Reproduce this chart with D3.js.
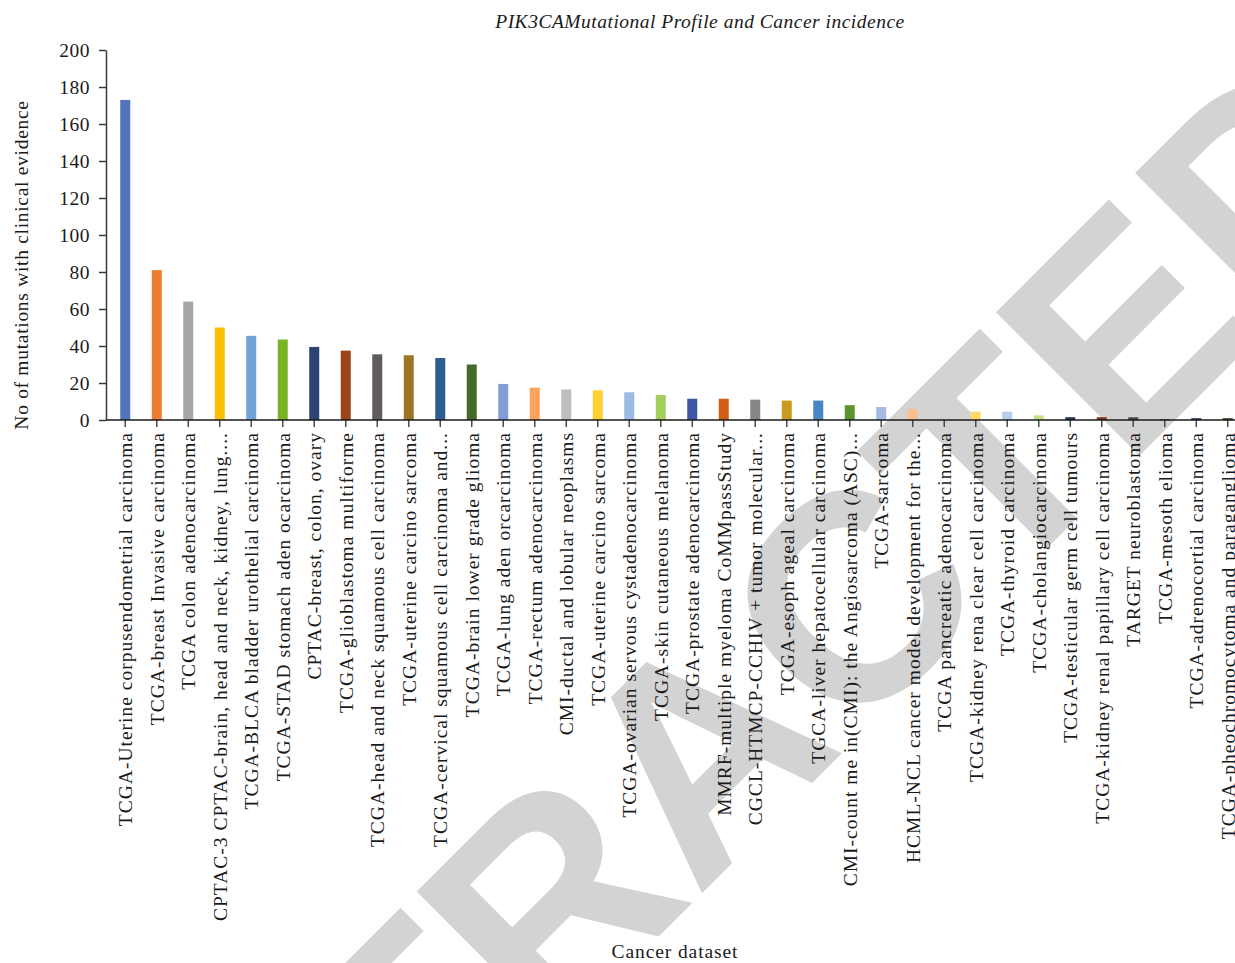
<!DOCTYPE html>
<html>
<head>
<meta charset="utf-8">
<script src="https://cdn.jsdelivr.net/npm/d3@7"></script>
<style>
  html, body { margin: 0; padding: 0; background: #fff; }
  svg { display: block; }
  text { font-family: "Liberation Serif", "Times New Roman", serif; fill: #1a1a1a; }
</style>
</head>
<body>
<svg id="chart" width="1235" height="963"></svg>
<script>
const categories = [
  "TCGA-Uterine corpusendometrial carcinoma",
  "TCGA-breast Invasive carcinoma",
  "TCGA colon adenocarcinoma",
  "CPTAC-3 CPTAC-brain, head and neck, kidney, lung....",
  "TCGA-BLCA bladder urothelial carcinoma",
  "TCGA-STAD stomach aden ocarcinoma",
  "CPTAC-breast, colon, ovary",
  "TCGA-glioblastoma multiforme",
  "TCGA-head and neck squamous cell carcinoma",
  "TCGA-uterine carcino sarcoma",
  "TCGA-cervical squamous cell carcinoma and...",
  "TCGA-brain lower grade glioma",
  "TCGA-lung aden orcarcinoma",
  "TCGA-rectum adenocarcinoma",
  "CMI-ductal and lobular neoplasms",
  "TCGA-uterine carcino sarcoma ",
  "TCGA-ovarian servous cystadenocarcinoma",
  "TCGA-skin cutaneous melanoma",
  "TCGA-prostate adenocarcinoma",
  "MMRF-multiple myeloma CoMMpassStudy",
  "CGCL-HTMCP-CCHIV + tumor molecular...",
  "TCGA-esoph ageal carcinoma",
  "TGCA-liver hepatocellular carcinoma",
  "CMI-count me in(CMI): the Angiosarcoma (ASC)...",
  "TCGA-sarcoma",
  "HCML-NCL cancer model development for the...",
  "TCGA pancreatic adenocarcinoma",
  "TCGA-kidney rena clear cell carcinoma",
  "TCGA-thyroid carcinoma",
  "TCGA-cholangiocarcinoma",
  "TCGA-testicular germ cell tumours",
  "TCGA-kidney renal papillary cell carcinoma",
  "TARGET neuroblastoma",
  "TCGA-mesoth elioma",
  "TCGA-adrenocortial carcinoma",
  "TCGA-pheochromocytoma and paraganglioma"
];
const values = [173, 81, 64, 50, 45.5, 43.5, 39.5, 37.5, 35.5, 35, 33.5, 30, 19.5, 17.5, 16.5, 16, 15, 13.5, 11.5, 11.5, 11, 10.5, 10.5, 8, 7, 6, 4.5, 4.5, 4.5, 2.5, 1.5, 1.5, 1.5, 0.5, 1, 1];
const barColors = ["#5373BC", "#ED7D31", "#A9A6A6", "#FCC000", "#71A4D6", "#7AB226", "#2E4173", "#9C4317", "#605C5C", "#9E7524",
  "#2C5C91", "#466B29", "#7F9CD3", "#FAA35E", "#BFBEBE", "#FFCE31", "#9ABCE3", "#A3D05C", "#3E56A5", "#D35D15",
  "#888585", "#CA9A1D", "#4A86C5", "#5B9431", "#A4B9E4", "#FCBF8E", "#D6D2D2", "#FFDA69", "#B4CFEC", "#C5E18F",
  "#1F3157", "#7B3512", "#4A4A4A", "#6B5418", "#1F3E68", "#304C1F"];
const yTicks = [0, 20, 40, 60, 80, 100, 120, 140, 160, 180, 200];
const chartTitle = "PIK3CAMutational Profile and Cancer incidence";
const yTitle = "No of mutations with clinical evidence";
const xTitle = "Cancer dataset";
const watermark = "RETRACTED";

const svg = d3.select("#chart");

// watermark (behind the chart)
svg.append("text")
  .attr("transform", "translate(697,748) rotate(-45)")
  .attr("text-anchor", "middle")
  .attr("dy", "0.36em")
  .style("font-family", "'Liberation Sans', Arial, sans-serif")
  .style("font-weight", "bold")
  .style("font-size", "295px")
  .style("fill", "#d3d3d3")
  .text(watermark);

const x = d3.scaleBand().domain(categories).range([109.5, 109.5 + 31.5 * categories.length]).padding(0);
const y = d3.scaleLinear().domain([0, 200]).range([420, 50]);
const barW = 10;

// bars
svg.append("g").selectAll("rect")
  .data(values)
  .join("rect")
  .attr("x", (d, i) => x(categories[i]) + x.bandwidth() / 2 - barW / 2)
  .attr("y", d => y(d))
  .attr("width", barW)
  .attr("height", d => y(0) - y(d))
  .attr("fill", (d, i) => barColors[i]);

// y axis
const yAxis = svg.append("g")
  .attr("transform", "translate(106,0)")
  .call(d3.axisLeft(y).tickValues(yTicks).tickSize(7).tickPadding(9).tickSizeOuter(0));
yAxis.select(".domain").attr("stroke", "#3a3a3a").attr("stroke-width", 1.5);
yAxis.selectAll(".tick line").attr("stroke", "#3a3a3a").attr("stroke-width", 1.5);
yAxis.selectAll(".tick text")
  .style("font-family", "'Liberation Serif', serif")
  .style("font-size", "19.5px").style("letter-spacing", "0.5px").style("fill", "#1a1a1a");

// x axis
const xAxis = svg.append("g")
  .attr("transform", "translate(0,420)")
  .call(d3.axisBottom(x).tickSize(7).tickSizeOuter(0));
xAxis.select(".domain").remove();
xAxis.selectAll(".tick line").attr("stroke", "#4a4a4a").attr("stroke-width", 1.5);
xAxis.selectAll(".tick text")
  .attr("transform", "rotate(-90)")
  .attr("text-anchor", "end")
  .attr("x", -12)
  .attr("y", 0)
  .attr("dy", "0.35em")
  .style("font-family", "'Liberation Serif', serif")
  .style("font-size", "19.5px").style("letter-spacing", "1px").style("fill", "#1a1a1a");
svg.append("line")
  .attr("x1", 106).attr("x2", 1235)
  .attr("y1", 420).attr("y2", 420)
  .attr("stroke", "#1a1a1a").attr("stroke-width", 1.5);

// titles
svg.append("text")
  .attr("x", 700).attr("y", 28)
  .attr("text-anchor", "middle")
  .style("font-style", "italic").style("font-size", "19.5px").style("letter-spacing", "0.5px")
  .text(chartTitle);

svg.append("text")
  .attr("transform", "translate(28,265) rotate(-90)")
  .attr("text-anchor", "middle")
  .style("font-size", "19.5px").style("letter-spacing", "0.7px")
  .text(yTitle);

svg.append("text")
  .attr("x", 675).attr("y", 958)
  .attr("text-anchor", "middle")
  .style("font-size", "19.5px").style("letter-spacing", "0.9px")
  .text(xTitle);
</script>
</body>
</html>
